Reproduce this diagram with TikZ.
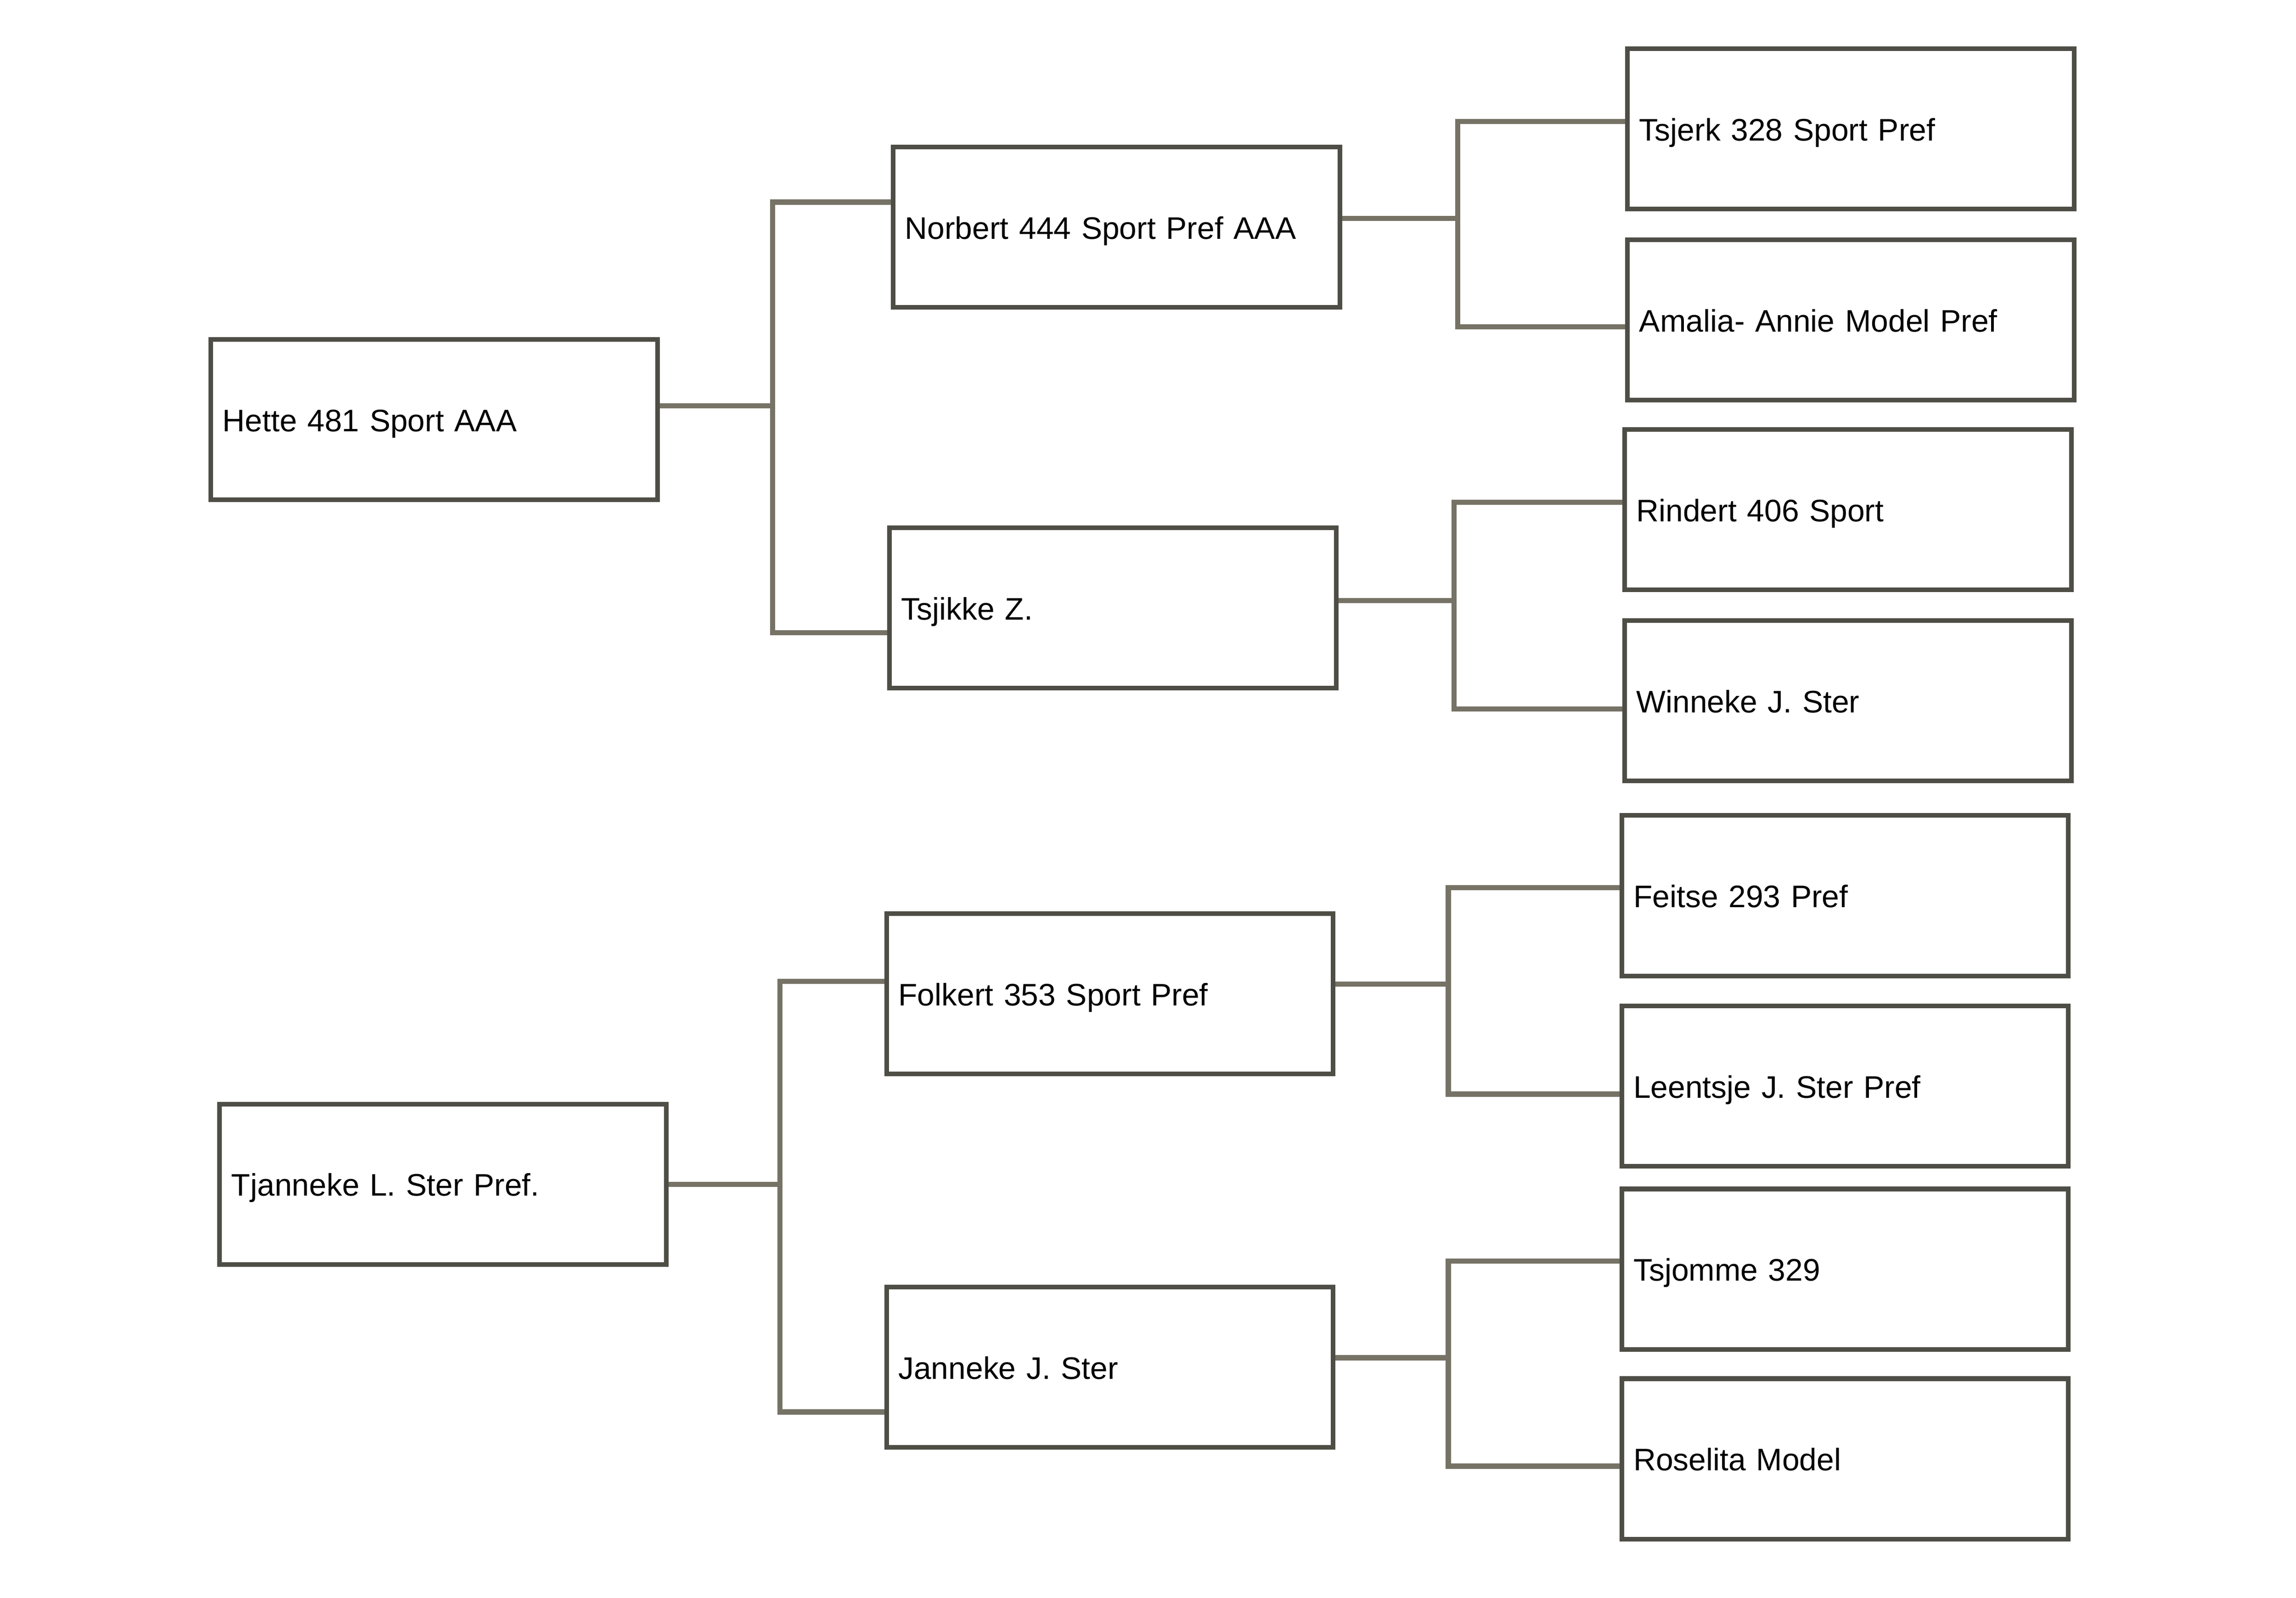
\documentclass[tikz,border=0pt]{standalone}
\usepackage{fontspec}
\setmainfont{Liberation Sans}
\definecolor{boxgray}{RGB}{78,78,70}
\definecolor{linkgray}{RGB}{118,115,102}

\begin{document}
\begin{tikzpicture}[
  box/.style={rectangle,draw=boxgray,line width=.9pt,minimum width=3.05cm,minimum height=1.095cm,
    text width=2.89cm,inner xsep=.08cm,align=left,text height=5.6pt,text depth=1pt,
    font=\fontsize{6.05}{7.3}\selectfont},
  link/.style={draw=linkgray,line width=1pt}]
\useasboundingbox (0,0) rectangle (15.68,-10.91);

\node[box](hette) at (2.965,-2.865) {Hette 481 Sport AAA};
\node[box](tjanneke) at (3.025,-8.085) {Tjanneke L. Ster Pref.};

\node[box](norbert) at (7.625,-1.55) {Norbert 444 Sport Pref AAA};
\node[box](tsjikke) at (7.60,-4.15) {Tsjikke Z.};
\node[box](folkert) at (7.58,-6.785) {Folkert 353 Sport Pref};
\node[box](janneke) at (7.58,-9.335) {Janneke J. Ster};

\node[box](tsjerk) at (12.64,-.88) {Tsjerk 328 Sport Pref};
\node[box](amalia) at (12.64,-2.185) {Amalia- Annie Model Pref};
\node[box](rindert) at (12.62,-3.48) {Rindert 406 Sport};
\node[box](winneke) at (12.62,-4.785) {Winneke J. Ster};
\node[box](feitse) at (12.60,-6.115) {Feitse 293 Pref};
\node[box](leentsje) at (12.60,-7.415) {Leentsje J. Ster Pref};
\node[box](tsjomme) at (12.60,-8.665) {Tsjomme 329};
\node[box](roselita) at (12.60,-9.96) {Roselita Model};

\draw[link] ([yshift=.095cm]hette.east) -- ++(.77,0) coordinate(j1) |- ([yshift=.17cm]norbert.west);
\draw[link] (j1) |- ([yshift=-.17cm]tsjikke.west);
\draw[link] (tjanneke.east) -- ++(.76,0) coordinate(j2) |- ([yshift=.085cm]folkert.west);
\draw[link] (j2) |- ([yshift=-.305cm]janneke.west);

\draw[link] ([yshift=.06cm]norbert.east) -- ++(.79,0) coordinate(j3) |- ([yshift=.05cm]tsjerk.west);
\draw[link] (j3) |- ([yshift=-.045cm]amalia.west);
\draw[link] ([yshift=.05cm]tsjikke.east) -- ++(.79,0) coordinate(j4) |- ([yshift=.05cm]rindert.west);
\draw[link] (j4) |- ([yshift=-.055cm]winneke.west);
\draw[link] ([yshift=.065cm]folkert.east) -- ++(.77,0) coordinate(j5) |- ([yshift=.055cm]feitse.west);
\draw[link] (j5) |- ([yshift=-.055cm]leentsje.west);
\draw[link] ([yshift=.065cm]janneke.east) -- ++(.77,0) coordinate(j6) |- ([yshift=.055cm]tsjomme.west);
\draw[link] (j6) |- ([yshift=-.05cm]roselita.west);
\end{tikzpicture}
\end{document}
